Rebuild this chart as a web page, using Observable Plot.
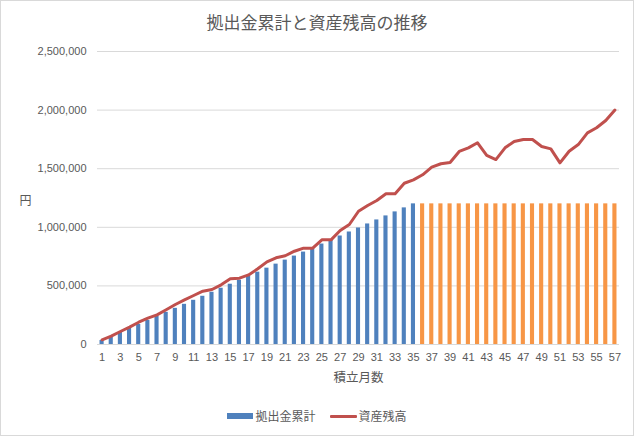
<!DOCTYPE html>
<html><head><meta charset="utf-8">
<script src="https://cdn.jsdelivr.net/npm/d3@7"></script>
<script src="https://cdn.jsdelivr.net/npm/@observablehq/plot@0.6"></script>
<style>
body{margin:0;background:#fff;}
#wrap{position:relative;width:634px;height:436px;box-sizing:border-box;border:1px solid #d9d9d9;font-family:"Liberation Sans","Noto Sans CJK JP",sans-serif;color:#595959;overflow:hidden;background:#fff}
#title{position:absolute;left:0;top:11px;width:100%;text-align:center;font-family:"Noto Sans CJK JP",sans-serif;font-size:17px;line-height:20px;color:#595959}
#chart{position:absolute;left:0;top:39px}
#legend{position:absolute;left:0;top:405px;width:100%;display:flex;justify-content:center;align-items:center;font-family:"Noto Sans CJK JP",sans-serif;font-size:12px;line-height:20px;color:#595959}
.item{display:flex;align-items:center;margin:0 7px}
.sw-bar{width:26px;height:6px;background:#4F81BD;margin-right:2px}
.sw-line{width:27px;height:3px;background:#C0504D;margin-right:2px;border-radius:1px}
</style></head>
<body>
<div id="wrap">
  <div id="title">拠出金累計と資産残高の推移</div>
  <div id="chart"></div>
  <div id="legend">
    <div class="item"><div class="sw-bar"></div><span>拠出金累計</span></div>
    <div class="item"><div class="sw-line"></div><span>資産残高</span></div>
  </div>
</div>
<script>
const months = [1,2,3,4,5,6,7,8,9,10,11,12,13,14,15,16,17,18,19,20,21,22,23,24,25,26,27,28,29,30,31,32,33,34,35,36,37,38,39,40,41,42,43,44,45,46,47,48,49,50,51,52,53,54,55,56,57];
const contributions = [34286,68571,102857,137143,171429,205714,240000,274286,308571,342857,377143,411429,445714,480000,514286,548571,582857,617143,651429,685714,720000,754286,788571,822857,857143,891429,925714,960000,994286,1028571,1062857,1097143,1131429,1165714,1200000,
1200000,1200000,1200000,1200000,1200000,1200000,1200000,1200000,1200000,1200000,1200000,1200000,1200000,1200000,1200000,1200000,1200000,1200000,1200000,1200000,1200000,1200000];
const balance = [40000,71000,111000,148000,190000,225000,253000,296000,341000,381000,
418000,455000,469000,509000,560000,566000,594000,646000,705000,740000,
757000,796000,822000,822000,893000,893000,973000,1024000,1137000,1186000,
1229000,1286000,1286000,1376000,1405000,1448000,1513000,1542000,1553000,1647000,
1678000,1721000,1613000,1578000,1678000,1732000,1749000,1749000,1689000,1669000,
1550000,1649000,1706000,1806000,1849000,1911000,2000000];
const yTicks = [0,500000,1000000,1500000,2000000,2500000];
const xTickMonths = months.filter((m, i) => i % 2 === 0);
const lastPayingMonth = 35;

const data = months.map((m, i) => ({month: m, contrib: contributions[i], balance: balance[i]}));

const chart = Plot.plot({
  width: 632,
  height: 355,
  marginTop: 11,
  marginBottom: 51,
  marginLeft: 96,
  marginRight: 14,
  style: {fontFamily: '"Liberation Sans","Noto Sans CJK JP",sans-serif', fontSize: "11px", color: "#595959", background: "white"},
  x: {type: "band", domain: months, paddingInner: 0.55, paddingOuter: 0.275, round: false, axis: null},
  y: {domain: [0, 2500000], axis: null},
  marks: [
    Plot.ruleY(yTicks, {stroke: "#d9d9d9", strokeWidth: 1}),
    Plot.barY(data, {x: "month", y: "contrib", fill: d => d.month <= lastPayingMonth ? "#4F81BD" : "#F79646"}),
    Plot.line(data, {x: "month", y: "balance", stroke: "#C0504D", strokeWidth: 3, strokeLinejoin: "round", strokeLinecap: "round"}),
    Plot.axisY({ticks: yTicks, tickSize: 0, tickPadding: 11, tickFormat: d3.format(","), fontSize: 11, fill: "#595959", label: null}),
    Plot.axisX({ticks: xTickMonths, tickSize: 0, tickPadding: 9, fontSize: 11, fill: "#595959", label: null}),
    Plot.text(["円"], {frameAnchor: "left", textAnchor: "middle", dx: -72, dy: 3, fontSize: 12, fill: "#595959", fontFamily: '"Noto Sans CJK JP",sans-serif'}),
    Plot.text(["積立月数"], {frameAnchor: "bottom", dy: 37, fontSize: 12.5, fill: "#595959", fontFamily: '"Noto Sans CJK JP",sans-serif'})
  ]
});
document.getElementById("chart").appendChild(chart);
</script>
</body></html>
